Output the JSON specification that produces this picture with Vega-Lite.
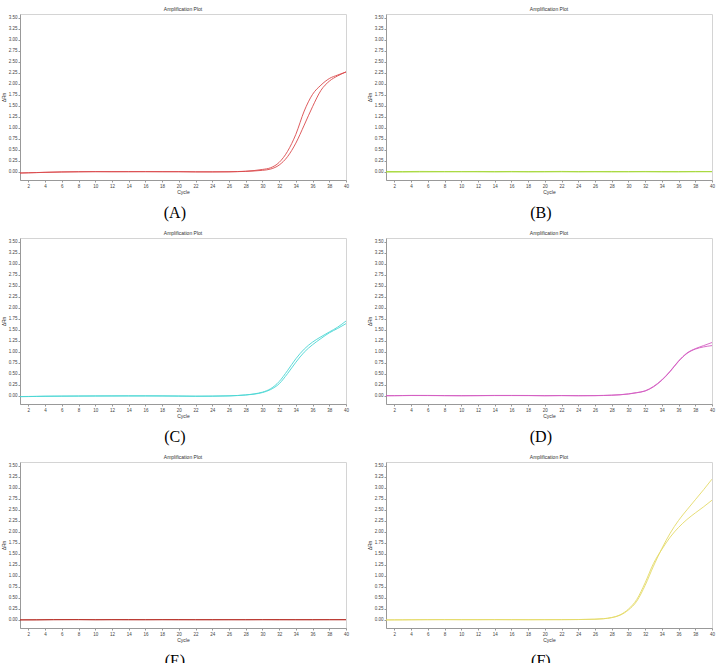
{
  "$schema": "https://vega.github.io/schema/vega-lite/v6.json",
  "background": "white",
  "padding": {"left": 0, "top": 6, "right": 0, "bottom": 0},
  "config": {
    "view": {"stroke": "#d4d4d4", "strokeWidth": 1},
    "axis": {"labelFontSize": 4.5, "labelColor": "#444", "labelFont": "Liberation Sans", "tickSize": 2, "tickColor": "#999", "domainColor": "#999", "grid": false, "titleFontSize": 5, "titleFontWeight": "normal", "titleColor": "#333", "titleFont": "Liberation Sans", "labelPadding": 1, "titlePadding": 2},
    "title": {"fontSize": 5, "fontWeight": "normal", "font": "Liberation Sans", "color": "#333", "offset": 2},
    "line": {"strokeWidth": 0.9, "interpolate": "monotone"}
  },
  "datasets": {
    "amp": [
      {"p":"A","r":1,"c":1,"v":-0.03},{"p":"A","r":1,"c":2,"v":-0.025},{"p":"A","r":1,"c":3,"v":-0.02},{"p":"A","r":1,"c":4,"v":-0.015},{"p":"A","r":1,"c":6,"v":-0.008},{"p":"A","r":1,"c":8,"v":-0.003},{"p":"A","r":1,"c":10,"v":0},{"p":"A","r":1,"c":12,"v":0},{"p":"A","r":1,"c":14,"v":0},{"p":"A","r":1,"c":16,"v":0},{"p":"A","r":1,"c":18,"v":0},{"p":"A","r":1,"c":20,"v":0},{"p":"A","r":1,"c":22,"v":-0.004},{"p":"A","r":1,"c":24,"v":-0.004},{"p":"A","r":1,"c":26,"v":-0.002},{"p":"A","r":1,"c":27,"v":0.002},{"p":"A","r":1,"c":28,"v":0.01},{"p":"A","r":1,"c":29,"v":0.025},{"p":"A","r":1,"c":30,"v":0.05},{"p":"A","r":1,"c":31,"v":0.09},{"p":"A","r":1,"c":32,"v":0.21},{"p":"A","r":1,"c":33,"v":0.46},{"p":"A","r":1,"c":34,"v":0.85},{"p":"A","r":1,"c":35,"v":1.38},{"p":"A","r":1,"c":36,"v":1.76},{"p":"A","r":1,"c":37,"v":1.97},{"p":"A","r":1,"c":38,"v":2.12},{"p":"A","r":1,"c":39,"v":2.2},{"p":"A","r":1,"c":40,"v":2.27},
      {"p":"A","r":2,"c":1,"v":-0.032},{"p":"A","r":2,"c":2,"v":-0.027},{"p":"A","r":2,"c":3,"v":-0.022},{"p":"A","r":2,"c":4,"v":-0.016},{"p":"A","r":2,"c":6,"v":-0.006},{"p":"A","r":2,"c":8,"v":-0.002},{"p":"A","r":2,"c":10,"v":0},{"p":"A","r":2,"c":12,"v":-0.002},{"p":"A","r":2,"c":14,"v":-0.001},{"p":"A","r":2,"c":16,"v":0},{"p":"A","r":2,"c":18,"v":-0.002},{"p":"A","r":2,"c":20,"v":-0.002},{"p":"A","r":2,"c":22,"v":-0.005},{"p":"A","r":2,"c":24,"v":-0.006},{"p":"A","r":2,"c":26,"v":-0.004},{"p":"A","r":2,"c":27,"v":0},{"p":"A","r":2,"c":28,"v":0.006},{"p":"A","r":2,"c":29,"v":0.015},{"p":"A","r":2,"c":30,"v":0.03},{"p":"A","r":2,"c":31,"v":0.06},{"p":"A","r":2,"c":32,"v":0.15},{"p":"A","r":2,"c":33,"v":0.34},{"p":"A","r":2,"c":34,"v":0.65},{"p":"A","r":2,"c":35,"v":1.06},{"p":"A","r":2,"c":36,"v":1.48},{"p":"A","r":2,"c":37,"v":1.85},{"p":"A","r":2,"c":38,"v":2.06},{"p":"A","r":2,"c":39,"v":2.18},{"p":"A","r":2,"c":40,"v":2.27},
      {"p":"B","r":1,"c":1,"v":0.004},{"p":"B","r":1,"c":3,"v":0.002},{"p":"B","r":1,"c":5,"v":0.005},{"p":"B","r":1,"c":8,"v":0.003},{"p":"B","r":1,"c":10,"v":0.001},{"p":"B","r":1,"c":12,"v":0.004},{"p":"B","r":1,"c":14,"v":0.002},{"p":"B","r":1,"c":16,"v":0.004},{"p":"B","r":1,"c":18,"v":0.002},{"p":"B","r":1,"c":20,"v":0.003},{"p":"B","r":1,"c":22,"v":0.005},{"p":"B","r":1,"c":24,"v":0.002},{"p":"B","r":1,"c":26,"v":0.003},{"p":"B","r":1,"c":28,"v":0.004},{"p":"B","r":1,"c":30,"v":0.002},{"p":"B","r":1,"c":32,"v":0.004},{"p":"B","r":1,"c":34,"v":0.003},{"p":"B","r":1,"c":36,"v":0.002},{"p":"B","r":1,"c":38,"v":0.004},{"p":"B","r":1,"c":40,"v":0.003},
      {"p":"B","r":2,"c":1,"v":-0.01},{"p":"B","r":2,"c":3,"v":-0.008},{"p":"B","r":2,"c":5,"v":-0.006},{"p":"B","r":2,"c":8,"v":-0.004},{"p":"B","r":2,"c":10,"v":-0.002},{"p":"B","r":2,"c":12,"v":-0.004},{"p":"B","r":2,"c":14,"v":-0.006},{"p":"B","r":2,"c":16,"v":-0.004},{"p":"B","r":2,"c":18,"v":-0.006},{"p":"B","r":2,"c":20,"v":-0.005},{"p":"B","r":2,"c":22,"v":-0.003},{"p":"B","r":2,"c":24,"v":-0.005},{"p":"B","r":2,"c":26,"v":-0.004},{"p":"B","r":2,"c":28,"v":-0.006},{"p":"B","r":2,"c":30,"v":-0.004},{"p":"B","r":2,"c":32,"v":-0.003},{"p":"B","r":2,"c":34,"v":-0.006},{"p":"B","r":2,"c":36,"v":-0.005},{"p":"B","r":2,"c":38,"v":-0.003},{"p":"B","r":2,"c":40,"v":-0.002},
      {"p":"C","r":1,"c":1,"v":-0.02},{"p":"C","r":1,"c":2,"v":-0.018},{"p":"C","r":1,"c":3,"v":-0.015},{"p":"C","r":1,"c":4,"v":-0.012},{"p":"C","r":1,"c":6,"v":-0.01},{"p":"C","r":1,"c":8,"v":-0.008},{"p":"C","r":1,"c":10,"v":-0.006},{"p":"C","r":1,"c":12,"v":-0.005},{"p":"C","r":1,"c":14,"v":-0.004},{"p":"C","r":1,"c":16,"v":-0.004},{"p":"C","r":1,"c":18,"v":-0.005},{"p":"C","r":1,"c":20,"v":-0.008},{"p":"C","r":1,"c":22,"v":-0.012},{"p":"C","r":1,"c":24,"v":-0.01},{"p":"C","r":1,"c":26,"v":-0.004},{"p":"C","r":1,"c":27,"v":0.004},{"p":"C","r":1,"c":28,"v":0.018},{"p":"C","r":1,"c":29,"v":0.04},{"p":"C","r":1,"c":30,"v":0.08},{"p":"C","r":1,"c":31,"v":0.16},{"p":"C","r":1,"c":32,"v":0.32},{"p":"C","r":1,"c":33,"v":0.57},{"p":"C","r":1,"c":34,"v":0.84},{"p":"C","r":1,"c":35,"v":1.06},{"p":"C","r":1,"c":36,"v":1.22},{"p":"C","r":1,"c":37,"v":1.34},{"p":"C","r":1,"c":38,"v":1.45},{"p":"C","r":1,"c":39,"v":1.56},{"p":"C","r":1,"c":40,"v":1.7},
      {"p":"C","r":2,"c":1,"v":-0.024},{"p":"C","r":2,"c":2,"v":-0.021},{"p":"C","r":2,"c":3,"v":-0.018},{"p":"C","r":2,"c":4,"v":-0.015},{"p":"C","r":2,"c":6,"v":-0.012},{"p":"C","r":2,"c":8,"v":-0.01},{"p":"C","r":2,"c":10,"v":-0.009},{"p":"C","r":2,"c":12,"v":-0.008},{"p":"C","r":2,"c":14,"v":-0.007},{"p":"C","r":2,"c":16,"v":-0.007},{"p":"C","r":2,"c":18,"v":-0.008},{"p":"C","r":2,"c":20,"v":-0.011},{"p":"C","r":2,"c":22,"v":-0.014},{"p":"C","r":2,"c":24,"v":-0.012},{"p":"C","r":2,"c":26,"v":-0.006},{"p":"C","r":2,"c":27,"v":0.002},{"p":"C","r":2,"c":28,"v":0.014},{"p":"C","r":2,"c":29,"v":0.034},{"p":"C","r":2,"c":30,"v":0.07},{"p":"C","r":2,"c":31,"v":0.14},{"p":"C","r":2,"c":32,"v":0.27},{"p":"C","r":2,"c":33,"v":0.5},{"p":"C","r":2,"c":34,"v":0.76},{"p":"C","r":2,"c":35,"v":0.99},{"p":"C","r":2,"c":36,"v":1.16},{"p":"C","r":2,"c":37,"v":1.3},{"p":"C","r":2,"c":38,"v":1.43},{"p":"C","r":2,"c":39,"v":1.53},{"p":"C","r":2,"c":40,"v":1.64},
      {"p":"D","r":1,"c":1,"v":0},{"p":"D","r":1,"c":2,"v":0.001},{"p":"D","r":1,"c":3,"v":0.003},{"p":"D","r":1,"c":4,"v":0.006},{"p":"D","r":1,"c":6,"v":0.005},{"p":"D","r":1,"c":8,"v":0.002},{"p":"D","r":1,"c":10,"v":0},{"p":"D","r":1,"c":12,"v":0.002},{"p":"D","r":1,"c":14,"v":0.005},{"p":"D","r":1,"c":16,"v":0.005},{"p":"D","r":1,"c":18,"v":0.004},{"p":"D","r":1,"c":20,"v":0},{"p":"D","r":1,"c":22,"v":0.003},{"p":"D","r":1,"c":24,"v":0},{"p":"D","r":1,"c":26,"v":0.002},{"p":"D","r":1,"c":27,"v":0.006},{"p":"D","r":1,"c":28,"v":0.012},{"p":"D","r":1,"c":29,"v":0.022},{"p":"D","r":1,"c":30,"v":0.04},{"p":"D","r":1,"c":31,"v":0.07},{"p":"D","r":1,"c":32,"v":0.11},{"p":"D","r":1,"c":33,"v":0.21},{"p":"D","r":1,"c":34,"v":0.36},{"p":"D","r":1,"c":35,"v":0.56},{"p":"D","r":1,"c":36,"v":0.79},{"p":"D","r":1,"c":37,"v":0.97},{"p":"D","r":1,"c":38,"v":1.07},{"p":"D","r":1,"c":39,"v":1.14},{"p":"D","r":1,"c":40,"v":1.21},
      {"p":"D","r":2,"c":1,"v":-0.003},{"p":"D","r":2,"c":2,"v":-0.002},{"p":"D","r":2,"c":3,"v":0},{"p":"D","r":2,"c":4,"v":0.003},{"p":"D","r":2,"c":6,"v":0.002},{"p":"D","r":2,"c":8,"v":-0.001},{"p":"D","r":2,"c":10,"v":-0.003},{"p":"D","r":2,"c":12,"v":-0.001},{"p":"D","r":2,"c":14,"v":0.002},{"p":"D","r":2,"c":16,"v":0.002},{"p":"D","r":2,"c":18,"v":0.001},{"p":"D","r":2,"c":20,"v":-0.003},{"p":"D","r":2,"c":22,"v":0},{"p":"D","r":2,"c":24,"v":-0.003},{"p":"D","r":2,"c":26,"v":-0.001},{"p":"D","r":2,"c":27,"v":0.003},{"p":"D","r":2,"c":28,"v":0.009},{"p":"D","r":2,"c":29,"v":0.019},{"p":"D","r":2,"c":30,"v":0.037},{"p":"D","r":2,"c":31,"v":0.066},{"p":"D","r":2,"c":32,"v":0.105},{"p":"D","r":2,"c":33,"v":0.2},{"p":"D","r":2,"c":34,"v":0.35},{"p":"D","r":2,"c":35,"v":0.55},{"p":"D","r":2,"c":36,"v":0.78},{"p":"D","r":2,"c":37,"v":0.96},{"p":"D","r":2,"c":38,"v":1.06},{"p":"D","r":2,"c":39,"v":1.11},{"p":"D","r":2,"c":40,"v":1.14},
      {"p":"E","r":1,"c":1,"v":-0.004},{"p":"E","r":1,"c":3,"v":-0.002},{"p":"E","r":1,"c":5,"v":0.002},{"p":"E","r":1,"c":8,"v":0.003},{"p":"E","r":1,"c":10,"v":0},{"p":"E","r":1,"c":12,"v":0.002},{"p":"E","r":1,"c":14,"v":0.003},{"p":"E","r":1,"c":16,"v":0.001},{"p":"E","r":1,"c":18,"v":0.002},{"p":"E","r":1,"c":20,"v":0.003},{"p":"E","r":1,"c":22,"v":0.001},{"p":"E","r":1,"c":24,"v":0.002},{"p":"E","r":1,"c":26,"v":0},{"p":"E","r":1,"c":28,"v":0.001},{"p":"E","r":1,"c":30,"v":0.002},{"p":"E","r":1,"c":32,"v":0.003},{"p":"E","r":1,"c":34,"v":0.001},{"p":"E","r":1,"c":36,"v":0.002},{"p":"E","r":1,"c":38,"v":0.001},{"p":"E","r":1,"c":40,"v":0.002},
      {"p":"E","r":2,"c":1,"v":-0.006},{"p":"E","r":2,"c":3,"v":-0.005},{"p":"E","r":2,"c":5,"v":-0.002},{"p":"E","r":2,"c":8,"v":-0.001},{"p":"E","r":2,"c":10,"v":-0.003},{"p":"E","r":2,"c":12,"v":-0.002},{"p":"E","r":2,"c":14,"v":-0.004},{"p":"E","r":2,"c":16,"v":-0.003},{"p":"E","r":2,"c":18,"v":-0.002},{"p":"E","r":2,"c":20,"v":-0.004},{"p":"E","r":2,"c":22,"v":-0.003},{"p":"E","r":2,"c":24,"v":-0.004},{"p":"E","r":2,"c":26,"v":-0.002},{"p":"E","r":2,"c":28,"v":-0.003},{"p":"E","r":2,"c":30,"v":-0.002},{"p":"E","r":2,"c":32,"v":-0.004},{"p":"E","r":2,"c":34,"v":-0.003},{"p":"E","r":2,"c":36,"v":-0.004},{"p":"E","r":2,"c":38,"v":-0.002},{"p":"E","r":2,"c":40,"v":-0.003},
      {"p":"F","r":1,"c":1,"v":-0.005},{"p":"F","r":1,"c":2,"v":-0.004},{"p":"F","r":1,"c":3,"v":-0.003},{"p":"F","r":1,"c":4,"v":-0.002},{"p":"F","r":1,"c":6,"v":0},{"p":"F","r":1,"c":8,"v":0.001},{"p":"F","r":1,"c":10,"v":0},{"p":"F","r":1,"c":12,"v":0},{"p":"F","r":1,"c":14,"v":0.001},{"p":"F","r":1,"c":16,"v":0},{"p":"F","r":1,"c":18,"v":-0.001},{"p":"F","r":1,"c":20,"v":0},{"p":"F","r":1,"c":22,"v":0},{"p":"F","r":1,"c":24,"v":0.002},{"p":"F","r":1,"c":26,"v":0.01},{"p":"F","r":1,"c":27,"v":0.02},{"p":"F","r":1,"c":28,"v":0.045},{"p":"F","r":1,"c":29,"v":0.1},{"p":"F","r":1,"c":30,"v":0.22},{"p":"F","r":1,"c":31,"v":0.42},{"p":"F","r":1,"c":32,"v":0.78},{"p":"F","r":1,"c":33,"v":1.22},{"p":"F","r":1,"c":34,"v":1.62},{"p":"F","r":1,"c":35,"v":1.97},{"p":"F","r":1,"c":36,"v":2.26},{"p":"F","r":1,"c":37,"v":2.5},{"p":"F","r":1,"c":38,"v":2.73},{"p":"F","r":1,"c":39,"v":2.96},{"p":"F","r":1,"c":40,"v":3.2},
      {"p":"F","r":2,"c":1,"v":-0.007},{"p":"F","r":2,"c":2,"v":-0.006},{"p":"F","r":2,"c":3,"v":-0.005},{"p":"F","r":2,"c":4,"v":-0.003},{"p":"F","r":2,"c":6,"v":-0.001},{"p":"F","r":2,"c":8,"v":0},{"p":"F","r":2,"c":10,"v":-0.001},{"p":"F","r":2,"c":12,"v":-0.001},{"p":"F","r":2,"c":14,"v":0},{"p":"F","r":2,"c":16,"v":-0.001},{"p":"F","r":2,"c":18,"v":-0.002},{"p":"F","r":2,"c":20,"v":-0.001},{"p":"F","r":2,"c":22,"v":0},{"p":"F","r":2,"c":24,"v":0.003},{"p":"F","r":2,"c":26,"v":0.01},{"p":"F","r":2,"c":27,"v":0.022},{"p":"F","r":2,"c":28,"v":0.05},{"p":"F","r":2,"c":29,"v":0.11},{"p":"F","r":2,"c":30,"v":0.24},{"p":"F","r":2,"c":31,"v":0.46},{"p":"F","r":2,"c":32,"v":0.84},{"p":"F","r":2,"c":33,"v":1.28},{"p":"F","r":2,"c":34,"v":1.6},{"p":"F","r":2,"c":35,"v":1.88},{"p":"F","r":2,"c":36,"v":2.1},{"p":"F","r":2,"c":37,"v":2.28},{"p":"F","r":2,"c":38,"v":2.43},{"p":"F","r":2,"c":39,"v":2.57},{"p":"F","r":2,"c":40,"v":2.72}
    ]
  },
  "spacing": 9,
  "vconcat": [
    {"spacing": 16, "hconcat": [
      {"title": {"text": "(A)", "orient": "bottom", "anchor": "middle", "font": "Liberation Serif", "fontSize": 16, "fontWeight": "normal", "color": "#000", "offset": 10},
       "vconcat": [{"title": "Amplification Plot", "width": 326, "height": 166, "data": {"name": "amp"}, "transform": [{"filter": "datum.p === 'A'"}],
        "mark": {"type": "line", "color": "#da4a4c", "clip": true},
        "encoding": {
          "x": {"field": "c", "type": "quantitative", "scale": {"domain": [1, 40], "nice": false, "zero": false}, "axis": {"values": [2,4,6,8,10,12,14,16,18,20,22,24,26,28,30,32,34,36,38,40], "title": "Cycle", "labelFlush": false}},
          "y": {"field": "v", "type": "quantitative", "scale": {"domain": [-0.19, 3.59], "nice": false, "zero": false}, "axis": {"values": [0,0.25,0.5,0.75,1,1.25,1.5,1.75,2,2.25,2.5,2.75,3,3.25,3.5], "format": ".2f", "title": "ΔRn", "labelFlush": false}},
          "detail": {"field": "r", "type": "nominal"}}}]},
      {"title": {"text": "(B)", "orient": "bottom", "anchor": "middle", "font": "Liberation Serif", "fontSize": 16, "fontWeight": "normal", "color": "#000", "offset": 10},
       "vconcat": [{"title": "Amplification Plot", "width": 326, "height": 166, "data": {"name": "amp"}, "transform": [{"filter": "datum.p === 'B'"}],
        "mark": {"type": "line", "color": "#a6d83a", "clip": true},
        "encoding": {
          "x": {"field": "c", "type": "quantitative", "scale": {"domain": [1, 40], "nice": false, "zero": false}, "axis": {"values": [2,4,6,8,10,12,14,16,18,20,22,24,26,28,30,32,34,36,38,40], "title": "Cycle", "labelFlush": false}},
          "y": {"field": "v", "type": "quantitative", "scale": {"domain": [-0.19, 3.59], "nice": false, "zero": false}, "axis": {"values": [0,0.25,0.5,0.75,1,1.25,1.5,1.75,2,2.25,2.5,2.75,3,3.25,3.5], "format": ".2f", "title": "ΔRn", "labelFlush": false}},
          "detail": {"field": "r", "type": "nominal"}}}]}
    ]},
    {"spacing": 16, "hconcat": [
      {"title": {"text": "(C)", "orient": "bottom", "anchor": "middle", "font": "Liberation Serif", "fontSize": 16, "fontWeight": "normal", "color": "#000", "offset": 10},
       "vconcat": [{"title": "Amplification Plot", "width": 326, "height": 166, "data": {"name": "amp"}, "transform": [{"filter": "datum.p === 'C'"}],
        "mark": {"type": "line", "color": "#4ad6d4", "clip": true},
        "encoding": {
          "x": {"field": "c", "type": "quantitative", "scale": {"domain": [1, 40], "nice": false, "zero": false}, "axis": {"values": [2,4,6,8,10,12,14,16,18,20,22,24,26,28,30,32,34,36,38,40], "title": "Cycle", "labelFlush": false}},
          "y": {"field": "v", "type": "quantitative", "scale": {"domain": [-0.19, 3.59], "nice": false, "zero": false}, "axis": {"values": [0,0.25,0.5,0.75,1,1.25,1.5,1.75,2,2.25,2.5,2.75,3,3.25,3.5], "format": ".2f", "title": "ΔRn", "labelFlush": false}},
          "detail": {"field": "r", "type": "nominal"}}}]},
      {"title": {"text": "(D)", "orient": "bottom", "anchor": "middle", "font": "Liberation Serif", "fontSize": 16, "fontWeight": "normal", "color": "#000", "offset": 10},
       "vconcat": [{"title": "Amplification Plot", "width": 326, "height": 166, "data": {"name": "amp"}, "transform": [{"filter": "datum.p === 'D'"}],
        "mark": {"type": "line", "color": "#d45cc2", "clip": true},
        "encoding": {
          "x": {"field": "c", "type": "quantitative", "scale": {"domain": [1, 40], "nice": false, "zero": false}, "axis": {"values": [2,4,6,8,10,12,14,16,18,20,22,24,26,28,30,32,34,36,38,40], "title": "Cycle", "labelFlush": false}},
          "y": {"field": "v", "type": "quantitative", "scale": {"domain": [-0.19, 3.59], "nice": false, "zero": false}, "axis": {"values": [0,0.25,0.5,0.75,1,1.25,1.5,1.75,2,2.25,2.5,2.75,3,3.25,3.5], "format": ".2f", "title": "ΔRn", "labelFlush": false}},
          "detail": {"field": "r", "type": "nominal"}}}]}
    ]},
    {"spacing": 16, "hconcat": [
      {"title": {"text": "(E)", "orient": "bottom", "anchor": "middle", "font": "Liberation Serif", "fontSize": 16, "fontWeight": "normal", "color": "#000", "offset": 10},
       "vconcat": [{"title": "Amplification Plot", "width": 326, "height": 166, "data": {"name": "amp"}, "transform": [{"filter": "datum.p === 'E'"}],
        "mark": {"type": "line", "color": "#b8322a", "clip": true},
        "encoding": {
          "x": {"field": "c", "type": "quantitative", "scale": {"domain": [1, 40], "nice": false, "zero": false}, "axis": {"values": [2,4,6,8,10,12,14,16,18,20,22,24,26,28,30,32,34,36,38,40], "title": "Cycle", "labelFlush": false}},
          "y": {"field": "v", "type": "quantitative", "scale": {"domain": [-0.19, 3.59], "nice": false, "zero": false}, "axis": {"values": [0,0.25,0.5,0.75,1,1.25,1.5,1.75,2,2.25,2.5,2.75,3,3.25,3.5], "format": ".2f", "title": "ΔRn", "labelFlush": false}},
          "detail": {"field": "r", "type": "nominal"}}}]},
      {"title": {"text": "(F)", "orient": "bottom", "anchor": "middle", "font": "Liberation Serif", "fontSize": 16, "fontWeight": "normal", "color": "#000", "offset": 10},
       "vconcat": [{"title": "Amplification Plot", "width": 326, "height": 166, "data": {"name": "amp"}, "transform": [{"filter": "datum.p === 'F'"}],
        "mark": {"type": "line", "color": "#e4da68", "clip": true},
        "encoding": {
          "x": {"field": "c", "type": "quantitative", "scale": {"domain": [1, 40], "nice": false, "zero": false}, "axis": {"values": [2,4,6,8,10,12,14,16,18,20,22,24,26,28,30,32,34,36,38,40], "title": "Cycle", "labelFlush": false}},
          "y": {"field": "v", "type": "quantitative", "scale": {"domain": [-0.19, 3.59], "nice": false, "zero": false}, "axis": {"values": [0,0.25,0.5,0.75,1,1.25,1.5,1.75,2,2.25,2.5,2.75,3,3.25,3.5], "format": ".2f", "title": "ΔRn", "labelFlush": false}},
          "detail": {"field": "r", "type": "nominal"}}}]}
    ]}
  ]
}
